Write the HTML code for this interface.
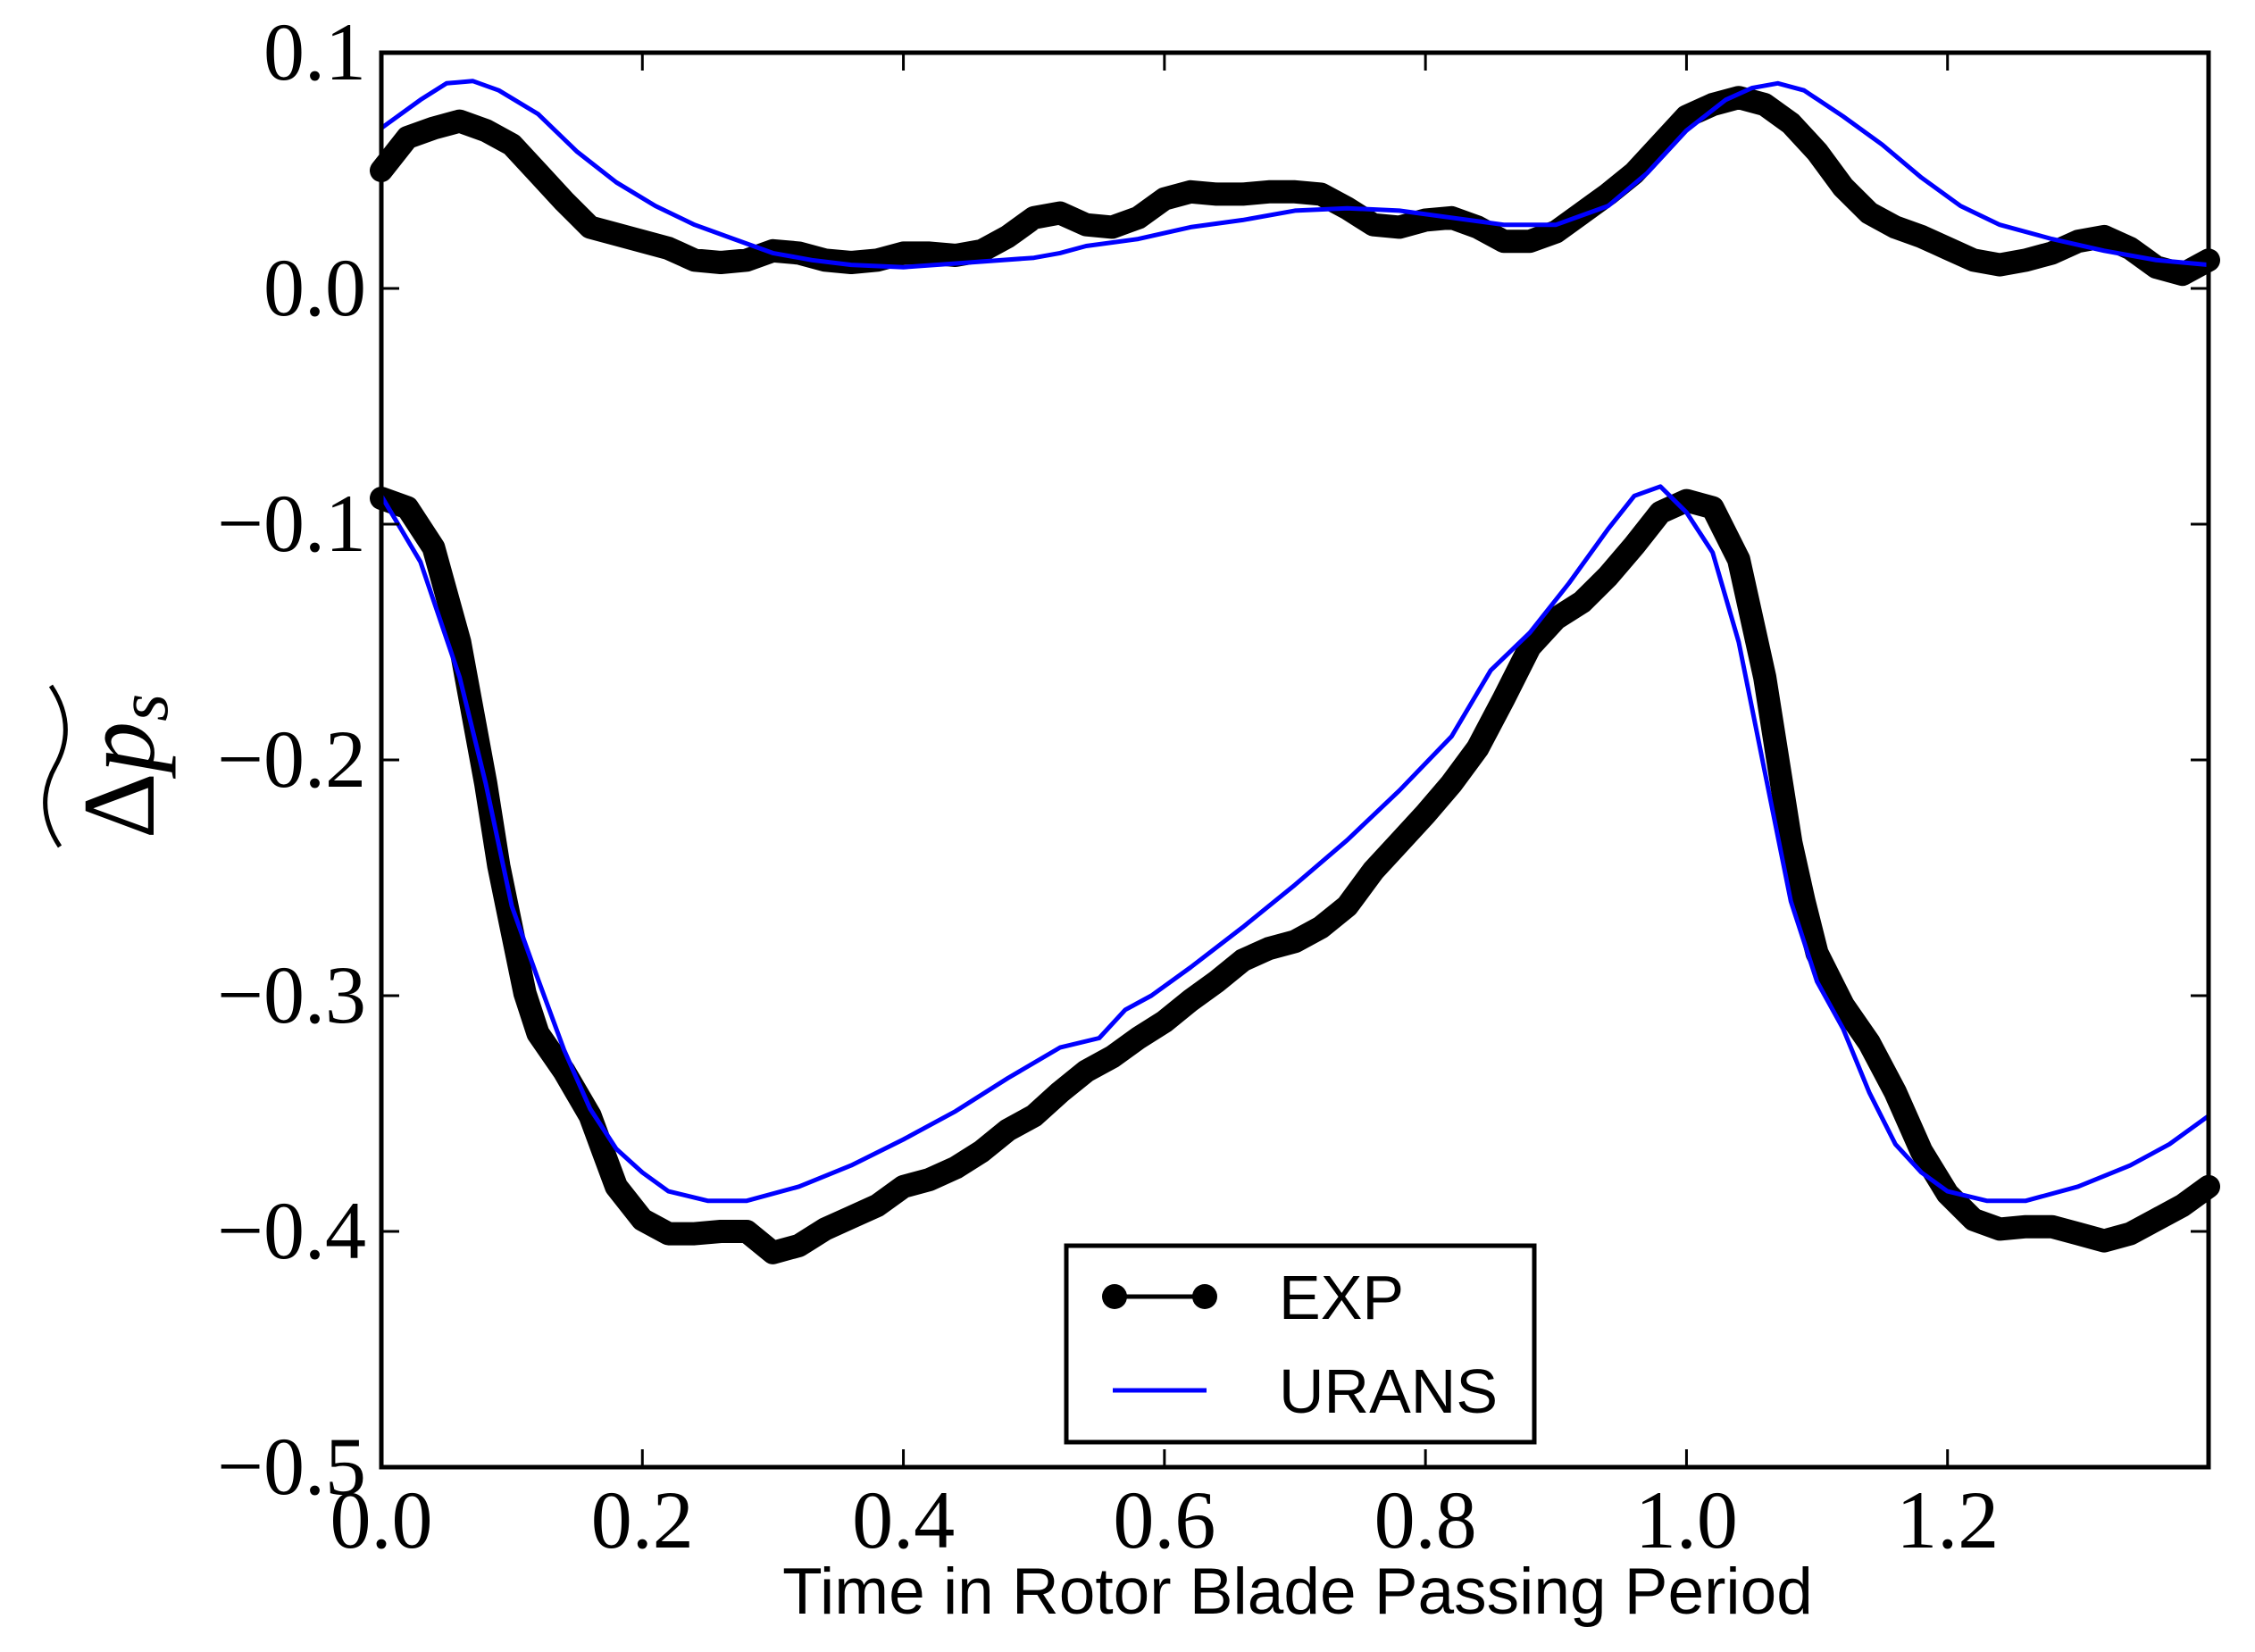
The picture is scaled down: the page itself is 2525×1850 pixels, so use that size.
<!DOCTYPE html>
<html><head><meta charset="utf-8"><style>
html,body{margin:0;padding:0;background:#fff;}
svg{display:block;}
.tick{font-family:"Liberation Serif",serif;font-size:92px;fill:#000;}
.sans{font-family:"Liberation Sans",sans-serif;fill:#000;}
</style></head><body>
<svg id="chart" width="2525" height="1850" viewBox="0 0 2525 1850" xmlns="http://www.w3.org/2000/svg">
<g id="marks"></g>
<rect x="427" y="59" width="2046" height="1584" fill="none" stroke="#000" stroke-width="5"/>
<g id="ticks"></g>
<text class="sans" x="1453" y="1807" font-size="73" text-anchor="middle">Time in Rotor Blade Passing Period</text>
<g transform="translate(172,858) rotate(-90)">
<text x="0" y="0" font-family="Liberation Serif,serif" font-size="115" text-anchor="middle">Δ<tspan font-style="italic">p</tspan><tspan font-style="italic" font-size="80" dy="15">s</tspan></text>
<path d="M-90,-105 Q-45,-135 0,-110 T90,-115" fill="none" stroke="#000" stroke-width="5"/>
</g>
<g>
<rect x="1194" y="1395" width="524" height="220" fill="#fff" stroke="#000" stroke-width="5"/>
<g>
<line x1="1246" y1="1452" x2="1351" y2="1452" stroke="#000" stroke-width="5"/>
<circle cx="1248" cy="1452" r="14" fill="#000"/><circle cx="1349" cy="1452" r="14" fill="#000"/>
<text class="sans" x="1432" y="1477" font-size="70">EXP</text></g>
<g>
<line x1="1246" y1="1557" x2="1351" y2="1557" stroke="#0000ff" stroke-width="5"/>
<text class="sans" x="1432" y="1582" font-size="70">URANS</text></g>
</g>
</svg>
<script>
const xTicks=[0.0,0.2,0.4,0.6,0.8,1.0,1.2];
const xTickLabels=["0.0","0.2","0.4","0.6","0.8","1.0","1.2"];
const yTicks=[0.1,0.0,-0.1,-0.2,-0.3,-0.4,-0.5];
const yTickLabels=["0.1","0.0","\u22120.1","\u22120.2","\u22120.3","\u22120.4","\u22120.5"];
const expUpperT=[0,0.02,0.04,0.06,0.08,0.1,0.12,0.14,0.16,0.18,0.2,0.22,0.24,0.26,0.28,0.3,0.32,0.34,0.36,0.38,0.4,0.42,0.44,0.46,0.48,0.5,0.52,0.54,0.56,0.58,0.6,0.62,0.64,0.66,0.68,0.7,0.72,0.74,0.76,0.78,0.8,0.82,0.84,0.86,0.88,0.9,0.92,0.94,0.96,0.98,1.0,1.02,1.04,1.06,1.08,1.1,1.12,1.14,1.16,1.18,1.2,1.22,1.24,1.26,1.28,1.3,1.32,1.34,1.36,1.38,1.4];
const expUpper=[0.05,0.064,0.068,0.071,0.067,0.061,0.049,0.037,0.026,0.023,0.020,0.017,0.012,0.011,0.012,0.016,0.015,0.012,0.011,0.012,0.015,0.015,0.014,0.016,0.022,0.030,0.032,0.027,0.026,0.030,0.038,0.041,0.040,0.040,0.041,0.041,0.040,0.034,0.027,0.026,0.029,0.030,0.026,0.020,0.020,0.024,0.032,0.040,0.049,0.061,0.073,0.078,0.081,0.078,0.070,0.058,0.043,0.032,0.026,0.022,0.017,0.012,0.010,0.012,0.015,0.020,0.022,0.017,0.009,0.006,0.012];
const uransUpperT=[0,0.03,0.05,0.07,0.09,0.12,0.15,0.18,0.21,0.24,0.27,0.3,0.33,0.36,0.4,0.45,0.5,0.52,0.54,0.58,0.62,0.66,0.7,0.74,0.78,0.82,0.86,0.9,0.94,0.97,1.0,1.03,1.05,1.07,1.09,1.12,1.15,1.18,1.21,1.24,1.28,1.32,1.36,1.4];
const uransUpper=[0.068,0.080,0.087,0.088,0.084,0.074,0.058,0.045,0.035,0.027,0.021,0.015,0.012,0.010,0.009,0.011,0.013,0.015,0.018,0.021,0.026,0.029,0.033,0.034,0.033,0.030,0.027,0.027,0.035,0.049,0.067,0.080,0.085,0.087,0.084,0.073,0.061,0.047,0.035,0.027,0.021,0.016,0.012,0.010];
const expLowerT=[0,0.02,0.04,0.06,0.08,0.09,0.1,0.11,0.12,0.14,0.16,0.17,0.18,0.2,0.22,0.24,0.26,0.28,0.3,0.32,0.34,0.36,0.38,0.4,0.42,0.44,0.46,0.48,0.5,0.52,0.54,0.56,0.58,0.6,0.62,0.64,0.66,0.68,0.7,0.72,0.74,0.76,0.78,0.8,0.82,0.84,0.86,0.88,0.9,0.92,0.94,0.96,0.98,1.0,1.02,1.04,1.06,1.08,1.09,1.1,1.12,1.14,1.16,1.18,1.2,1.22,1.24,1.26,1.28,1.3,1.32,1.34,1.36,1.38,1.4];
const expLower=[-0.089,-0.093,-0.110,-0.150,-0.210,-0.245,-0.272,-0.299,-0.316,-0.332,-0.351,-0.366,-0.381,-0.395,-0.401,-0.401,-0.400,-0.400,-0.409,-0.406,-0.399,-0.394,-0.389,-0.381,-0.378,-0.373,-0.366,-0.357,-0.351,-0.341,-0.332,-0.326,-0.318,-0.311,-0.302,-0.294,-0.285,-0.280,-0.277,-0.271,-0.262,-0.247,-0.235,-0.223,-0.210,-0.195,-0.174,-0.152,-0.140,-0.133,-0.122,-0.109,-0.095,-0.090,-0.093,-0.115,-0.165,-0.235,-0.260,-0.282,-0.304,-0.320,-0.341,-0.366,-0.384,-0.395,-0.399,-0.398,-0.398,-0.401,-0.404,-0.401,-0.395,-0.389,-0.381];
const uransLowerT=[0,0.03,0.06,0.08,0.1,0.12,0.14,0.16,0.18,0.2,0.22,0.25,0.28,0.32,0.36,0.4,0.44,0.48,0.52,0.55,0.57,0.59,0.62,0.66,0.7,0.74,0.78,0.82,0.85,0.88,0.91,0.94,0.96,0.98,1.0,1.02,1.04,1.06,1.08,1.1,1.12,1.14,1.16,1.18,1.2,1.23,1.26,1.3,1.34,1.37,1.4];
const uransLower=[-0.088,-0.116,-0.165,-0.210,-0.262,-0.293,-0.323,-0.348,-0.365,-0.375,-0.383,-0.387,-0.387,-0.381,-0.372,-0.361,-0.349,-0.335,-0.322,-0.318,-0.306,-0.300,-0.288,-0.271,-0.253,-0.234,-0.213,-0.190,-0.162,-0.146,-0.125,-0.102,-0.088,-0.084,-0.095,-0.112,-0.150,-0.205,-0.260,-0.294,-0.314,-0.341,-0.363,-0.375,-0.383,-0.387,-0.387,-0.381,-0.372,-0.363,-0.351];

const X0=427,X1=2473,Y0=59,Y1=1643;
function sx(t){return X0+(t-0)/(1.4-0)*(X1-X0);}
function sy(v){return Y0+(0.1-v)/(0.1-(-0.5))*(Y1-Y0);}
const NS="http://www.w3.org/2000/svg";
const marks=document.getElementById('marks');
const ticks=document.getElementById('ticks');
function line(ts,vs,color,w,name){
  const p=document.createElementNS(NS,'polyline');
  
  
  p.setAttribute('points',ts.map((t,i)=>sx(t).toFixed(1)+','+sy(vs[i]).toFixed(1)).join(' '));
  p.setAttribute('fill','none');p.setAttribute('stroke',color);p.setAttribute('stroke-width',w);
  p.setAttribute('stroke-linejoin','round');p.setAttribute('stroke-linecap','round');
  marks.appendChild(p);
}
line(expUpperT,expUpper,'#000',26,'exp-upper-line');
line(expLowerT,expLower,'#000',26,'exp-lower-line');
line(uransUpperT,uransUpper,'#0000ff',5,'urans-upper-line');
line(uransLowerT,uransLower,'#0000ff',5,'urans-lower-line');
function tk(x1,y1,x2,y2){const l=document.createElementNS(NS,'line');
  
  
  l.setAttribute('x1',x1);l.setAttribute('y1',y1);l.setAttribute('x2',x2);l.setAttribute('y2',y2);
  l.setAttribute('stroke','#000');l.setAttribute('stroke-width',3);ticks.appendChild(l);}
xTicks.forEach((t,i)=>{const x=sx(t);tk(x,Y1,x,Y1-20);tk(x,Y0,x,Y0+20);
  const tx=document.createElementNS(NS,'text');
  
  
  tx.setAttribute('class','tick');tx.setAttribute('x',x);tx.setAttribute('y',1733);tx.setAttribute('text-anchor','middle');
  tx.textContent=xTickLabels[i];ticks.appendChild(tx);});
yTicks.forEach((v,i)=>{const y=sy(v);tk(X0,y,X0+20,y);tk(X1,y,X1-20,y);
  const tx=document.createElementNS(NS,'text');
  
  
  tx.setAttribute('class','tick');tx.setAttribute('x',410);tx.setAttribute('y',y+30);tx.setAttribute('text-anchor','end');
  tx.textContent=yTickLabels[i];ticks.appendChild(tx);});
</script>
</body></html>
